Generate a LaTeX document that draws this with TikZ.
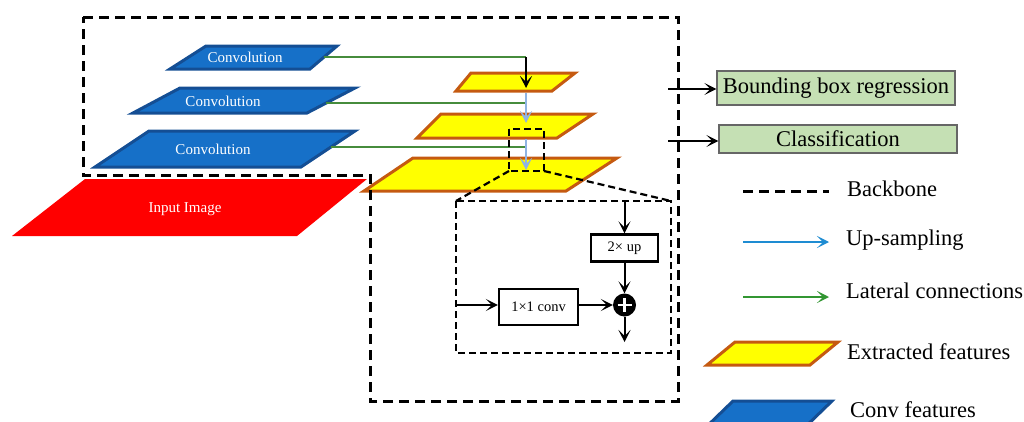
\documentclass[tikz,border=0pt]{standalone}
\usepackage{fontspec}
\setmainfont{Liberation Serif}
\usetikzlibrary{arrows.meta,calc}
\definecolor{convfill}{RGB}{22,112,200}
\definecolor{convdraw}{RGB}{20,78,148}
\definecolor{featfill}{RGB}{255,255,0}
\definecolor{featdraw}{RGB}{197,90,17}
\definecolor{latgreen}{RGB}{70,140,60}
\definecolor{upblue}{RGB}{143,180,227}
\definecolor{legblue}{RGB}{30,140,210}
\definecolor{leggreen}{RGB}{50,150,50}
\definecolor{headfill}{RGB}{197,224,180}
\begin{document}
\begin{tikzpicture}[x=1pt,y=-1pt,
  convpar/.style={fill=convfill,draw=convdraw,line width=3pt},
  featpar/.style={fill=featfill,draw=featdraw,line width=3pt},
  convtext/.style={text=white,font=\fontsize{15}{18}\selectfont,inner sep=0pt},
  backbone/.style={dash pattern=on 10pt off 6pt,line width=3pt},
  insetline/.style={dash pattern=on 7pt off 4pt,line width=2.2pt},
  lateral/.style={draw=latgreen,line width=1.8pt},
  arrowtip/.style={-{Stealth[length=12pt,width=12pt,inset=6pt]}},
  upsamp/.style={draw=upblue,line width=2.2pt,arrowtip},
  arr/.style={line width=2pt,arrowtip},
  headbox/.style={draw=black!60,fill=headfill,line width=1.2pt,minimum width=238pt,font=\fontsize{22.5}{27}\selectfont,inner sep=0pt},
  legtext/.style={anchor=base west,font=\fontsize{22.5}{27}\selectfont,inner sep=0pt},
  opbox/.style={draw,line width=2.4pt,font=\fontsize{14.5}{17}\selectfont,inner sep=0pt}]
\useasboundingbox (0,0) rectangle (1024,421);

% input image
\fill[red] (12,236) -- (297,236) -- (367,179) -- (85,179) -- cycle;
\node[convtext] (input) at (185,209) {Input Image};

% conv features
\draw[convpar] (170,69) -- (310,69) -- (337,46) -- (206,46) -- cycle;
\node[convtext] (c1) at (245,57) {Convolution};
\draw[convpar] (133,113) -- (307,113) -- (355,88) -- (180,88) -- cycle;
\node[convtext] (c2) at (223,101) {Convolution};
\draw[convpar] (95,167) -- (301,167) -- (355,131) -- (149,131) -- cycle;
\node[convtext] (c3) at (213,149) {Convolution};
\coordinate (c1r) at (324,57);
\coordinate (c2r) at (326,103);
\coordinate (c3r) at (331,147);

% extracted features
\draw[featpar] (456,91) -- (552,91) -- (575,73) -- (471,73) -- cycle;
\draw[featpar] (417,138) -- (557,138) -- (593,114) -- (441,114) -- cycle;
\draw[featpar] (364,191) -- (566,191) -- (617,158) -- (413,158) -- cycle;
\coordinate (f1top) at (526,57);
\coordinate (f1in) at (526,88);
\coordinate (f1bot) at (526,93);
\coordinate (f2in) at (526,123);
\coordinate (f2bot) at (526,139);
\coordinate (f3in) at (526,170);
\coordinate (j2) at (526,103);
\coordinate (j3) at (526,147);

% lateral connections
\draw[lateral] (c1r) -- (f1top);
\draw[lateral] (c2r) -- (j2);
\draw[lateral] (c3r) -- (j3);
\draw[arr] (f1top) -- (f1in);
\draw[upsamp] (f1bot) -- (f2in);
\draw[upsamp] (f2bot) -- (f3in);

% backbone
\draw[backbone] (83,17) -- (678,17) -- (678,401) -- (370,401) -- (370,175) -- (83,175) -- cycle;

% zoom inset
\coordinate (zbl) at (509,171);
\coordinate (zbr) at (544,171);
\coordinate (itl) at (456,201);
\coordinate (itr) at (671,201);
\draw[insetline] (509,129) rectangle (zbr);
\draw[insetline] (zbl) -- (itl);
\draw[insetline] (zbr) -- (itr);
\draw[insetline] (itl) rectangle (671,353);

\node[opbox,minimum width=67pt,minimum height=27pt] (up) at (624.5,248) {2× up};
\node[opbox,minimum width=79pt,minimum height=36pt] (conv) at (538.5,307) {1×1 conv};
\node[circle,fill=black,minimum size=23pt,inner sep=0pt] (plus) at (624.5,305) {};
\draw[white,line width=2.8pt] ($(plus.center)+(-7,0)$) -- ($(plus.center)+(7,0)$);
\draw[white,line width=2.8pt] ($(plus.center)+(0,-7)$) -- ($(plus.center)+(0,7)$);
\coordinate (upin) at (624.5,201);
\coordinate (convin) at (456,305);
\coordinate (plusout) at (624.5,342);
\draw[arr] (upin) -- (up.north);
\draw[arr] (up.south) -- (plus.north);
\draw[arr] (convin) -- (conv.west |- convin);
\draw[arr] (conv.east |- plus) -- (plus.west);
\draw[arr] (plus.south) -- (plusout);

% heads
\node[headbox,minimum height=34pt] (bbox) at (836,88) {Bounding box regression};
\node[headbox,minimum height=28pt] (cls) at (838,139) {Classification};
\coordinate (o1) at (668,89);
\coordinate (o2) at (668,141);
\draw[arr] (o1) -- (bbox.west |- o1);
\draw[arr] (o2) -- (cls.west |- o2);

% legend
\coordinate (l1a) at (743,191); \coordinate (l1b) at (829,191);
\draw[backbone] (l1a) -- (l1b);
\node[legtext] (t1) at (847,196) {Backbone};
\coordinate (l2a) at (743,242); \coordinate (l2b) at (829,242);
\draw[draw=legblue,line width=1.6pt,arrowtip] (l2a) -- (l2b);
\node[legtext] (t2) at (846,245) {Up-sampling};
\coordinate (l3a) at (743,297); \coordinate (l3b) at (829,297);
\draw[draw=leggreen,line width=1.6pt,arrowtip] (l3a) -- (l3b);
\node[legtext] (t3) at (846,298) {Lateral connections};
\draw[featpar] (707,365) -- (810,365) -- (838,342) -- (735,342) -- cycle;
\node[legtext] (t4) at (847,359) {Extracted features};
\draw[convpar] (701,432) -- (800,432) -- (832,401) -- (733,401) -- cycle;
\node[legtext] (t5) at (850,417) {Conv features};
\end{tikzpicture}
\end{document}
